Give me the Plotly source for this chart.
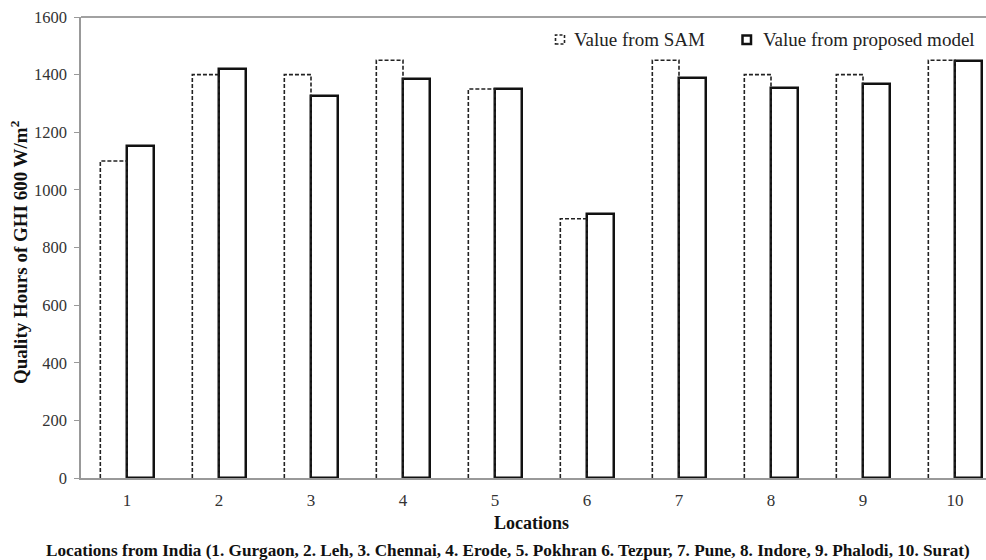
import plotly.graph_objects as go

# Quality hours (GHI >= 600 W/m2) per location
locations = [1, 2, 3, 4, 5, 6, 7, 8, 9, 10]
sam_values = [1100, 1400, 1400, 1450, 1350, 900, 1450, 1400, 1400, 1450]
model_values = [1152, 1420, 1326, 1386, 1350, 915, 1388, 1352, 1366, 1447]
y_ticks = [0, 200, 400, 600, 800, 1000, 1200, 1400, 1600]

FONT = "Times New Roman, Liberation Serif, DejaVu Serif, serif"
BAR_W = 0.29

W, H = 986, 560
L, R, T, B = 81, 0, 17, 82
PW, PH = W - L - R, H - T - B


def fx(px):
    return (px - L) / PW


def fy(py):
    return (H - B - py) / PH


fig = go.Figure()

# proposed model: solid outlined bars, right of the category centre
fig.add_trace(go.Bar(
    x=[c + BAR_W / 2 for c in locations], y=model_values, width=BAR_W,
    marker=dict(color="white", line=dict(color="#111", width=2.5)),
    name="Value from proposed model", showlegend=False,
))

# SAM: dashed outlines, left of the category centre
sx, sy = [], []
for c, v in zip(locations, sam_values):
    sx += [c - BAR_W, c - BAR_W, c, c, None]
    sy += [0, v, v, 0, None]
fig.add_trace(go.Scatter(
    x=sx, y=sy, mode="lines", line=dict(color="#222", width=1.6, dash="4px,2px"),
    name="Value from SAM", showlegend=False, hoverinfo="skip",
))

shapes = [
    # top frame line
    dict(type="line", xref="paper", yref="paper", x0=0, x1=1, y0=1, y1=1,
         line=dict(color="#444", width=1.2)),
    # legend symbols
    dict(type="rect", xref="paper", yref="paper",
         x0=fx(555.5), x1=fx(564.5), y0=fy(44), y1=fy(35),
         line=dict(color="#222", width=1.6, dash="3px,2px")),
    dict(type="rect", xref="paper", yref="paper",
         x0=fx(742.5), x1=fx(751), y0=fy(44), y1=fy(35.5),
         line=dict(color="#111", width=2.5)),
]

annotations = [
    dict(text="Value from SAM", xref="paper", yref="paper", x=fx(572), y=fy(39.5),
         xanchor="left", yanchor="middle", showarrow=False,
         font=dict(family=FONT, size=19, color="#222")),
    dict(text="Value from proposed model", xref="paper", yref="paper", x=fx(761), y=fy(39.5),
         xanchor="left", yanchor="middle", showarrow=False,
         font=dict(family=FONT, size=19, color="#222")),
    dict(text="<b>Quality Hours of GHI 600 W/m<sup>2</sup></b>", xref="paper", yref="paper",
         x=fx(19), y=fy(252), textangle=-90, xanchor="center", yanchor="middle",
         showarrow=False, font=dict(family=FONT, size=19, color="#111")),
    dict(text="<b>Locations</b>", xref="paper", yref="paper", x=fx(531), y=fy(523),
         xanchor="center", yanchor="middle", showarrow=False,
         font=dict(family=FONT, size=18, color="#111")),
    dict(text="<b>Locations from India (1. Gurgaon, 2. Leh, 3. Chennai, 4. Erode, 5. Pokhran 6. Tezpur, "
              "7. Pune, 8. Indore, 9. Phalodi, 10. Surat)</b>",
         xref="paper", yref="paper", x=fx(44), y=fy(550),
         xanchor="left", yanchor="middle", showarrow=False,
         font=dict(family=FONT, size=17.2, color="#111")),
]

fig.update_layout(
    width=W, height=H,
    margin=dict(l=L, r=R, t=T, b=B),
    paper_bgcolor="white", plot_bgcolor="white",
    font=dict(family=FONT),
    shapes=shapes, annotations=annotations,
    bargap=0, showlegend=False,
    xaxis=dict(
        range=[0.5, 0.5 + PW / 92.0], tickmode="array", tickvals=locations,
        ticktext=[str(c) for c in locations], showgrid=False, zeroline=False,
        showline=True, linecolor="#999", linewidth=1.5, ticks="",
        ticklabelstandoff=6,
        tickfont=dict(family=FONT, size=17, color="#333"),
    ),
    yaxis=dict(
        range=[0, 1600], tickmode="array", tickvals=y_ticks,
        showgrid=False, zeroline=False, showline=True, linecolor="#999", linewidth=1.5,
        ticks="outside", ticklen=5, tickcolor="#999", tickwidth=1,
        ticklabelstandoff=4,
        tickfont=dict(family=FONT, size=16.5, color="#333"),
    ),
)

fig.write_html("out.html")
